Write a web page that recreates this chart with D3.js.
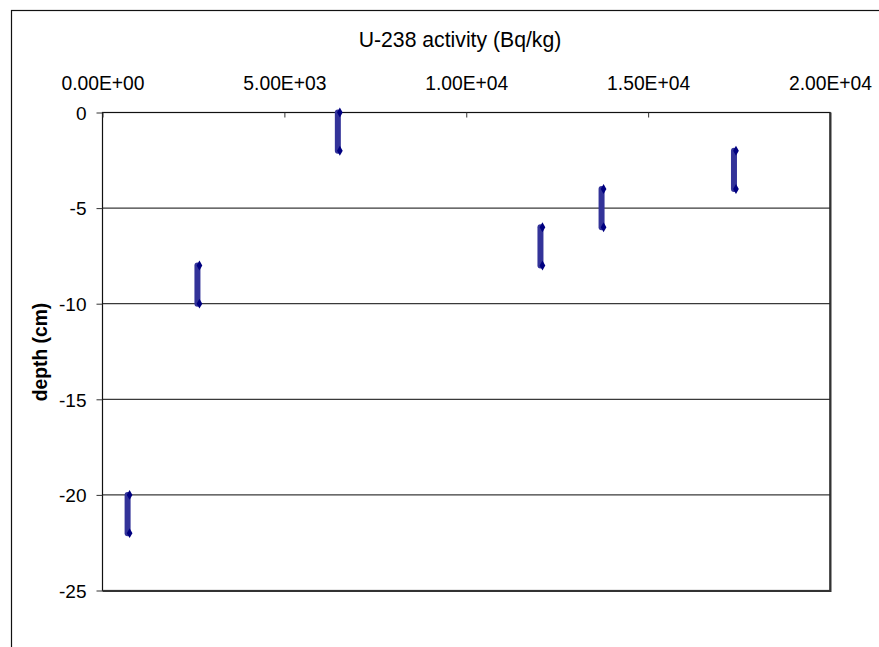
<!DOCTYPE html>
<html>
<head>
<meta charset="utf-8">
<script src="https://cdn.jsdelivr.net/npm/d3@7/dist/d3.min.js"></script>
<style>
  html, body { margin: 0; padding: 0; background: #fff; }
  svg { display: block; font-family: "Liberation Sans", Arial, sans-serif; }
</style>
</head>
<body>
<svg id="chart" width="879" height="647"></svg>
<script>
// U-238 activity per depth interval (each sample spans 2 cm of depth)
const activity    = [690, 2610, 6470, 12040, 13720, 17360];
const depthTop    = [-20, -8, 0, -6, -4, -2];
const depthBottom = [-22, -10, -2, -8, -6, -4];

const xTicks = [0, 5000, 10000, 15000, 20000];
const yTicks = [0, -5, -10, -15, -20, -25];

const titleText = "U-238 activity (Bq/kg)";
const yLabelText = "depth (cm)";

const svg = d3.select("#chart");

// chart frame (extends past the window on right and bottom)
svg.append("rect")
  .attr("x", 11.5).attr("y", 10.5)
  .attr("width", 900).attr("height", 700)
  .attr("fill", "#fff").attr("stroke", "#111").attr("stroke-width", 1.2);

const plot = { left: 102.5, top: 112.5, right: 830, bottom: 590.5 };

const x = d3.scaleLinear().domain([0, 20000]).range([plot.left, plot.right]);
const y = d3.scaleLinear().domain([-25, 0]).range([plot.bottom, plot.top]);

// gridlines
svg.append("g")
  .selectAll("line")
  .data(yTicks.filter(d => d !== 0 && d !== -25))
  .join("line")
  .attr("x1", plot.left).attr("x2", plot.right)
  .attr("y1", d => y(d)).attr("y2", d => y(d))
  .attr("stroke", "#3a3a3a").attr("stroke-width", 1.3);

// plot border
svg.append("rect")
  .attr("x", plot.left).attr("y", plot.top)
  .attr("width", plot.right - plot.left).attr("height", plot.bottom - plot.top)
  .attr("fill", "none").attr("stroke", "#111").attr("stroke-width", 1.2);
svg.append("path")
  .attr("d", `M${plot.left},${plot.bottom + 0.5}H${plot.right + 0.5}V${plot.top}`)
  .attr("fill", "none").attr("stroke", "#333").attr("stroke-width", 2);

const sciFormat = d => {
  const [m, e] = d.toExponential(2).split("e");
  const sign = e[0];
  const digits = e.slice(1).padStart(2, "0");
  return `${m}E${sign}${digits}`;
};

// top x axis, ticks pointing into the plot
const xAxis = svg.append("g")
  .attr("transform", `translate(0,${plot.top})`)
  .call(d3.axisTop(x).tickValues(xTicks).tickFormat(sciFormat).tickSizeInner(-5).tickSizeOuter(0).tickPadding(0));
xAxis.select(".domain").remove();
xAxis.selectAll(".tick line").attr("stroke", "#333");
xAxis.selectAll(".tick text")
  .attr("y", -22.5).attr("dy", 0)
  .attr("font-size", 19.3).attr("fill", "#000")
  .attr("font-family", "'Liberation Sans', Arial, sans-serif");

// left y axis
const yAxis = svg.append("g")
  .attr("transform", `translate(${plot.left},0)`)
  .call(d3.axisLeft(y).tickValues(yTicks).tickFormat(d => String(d)).tickSizeInner(6).tickSizeOuter(0).tickPadding(10));
yAxis.select(".domain").remove();
yAxis.selectAll(".tick line").attr("stroke", "#333");
yAxis.selectAll(".tick text")
  .attr("dy", "0.36em")
  .attr("x", -16)
  .attr("font-size", 19).attr("fill", "#000")
  .attr("font-family", "'Liberation Sans', Arial, sans-serif");

// titles
svg.append("text")
  .attr("x", 460).attr("y", 46.5)
  .attr("text-anchor", "middle")
  .attr("font-size", 21.2).attr("fill", "#000")
  .text(titleText);

svg.append("text")
  .attr("transform", `translate(47,352) rotate(-90)`)
  .attr("text-anchor", "middle")
  .attr("font-size", 19.3).attr("font-weight", "bold").attr("fill", "#000")
  .text(yLabelText);

// depth-interval segments
const samples = activity.map((a, i) => ({ a, top: depthTop[i], bottom: depthBottom[i] }));

const seg = svg.append("g");
seg.selectAll("line")
  .data(samples)
  .join("line")
  .attr("x1", d => x(d.a)).attr("x2", d => x(d.a))
  .attr("y1", d => y(d.top)).attr("y2", d => y(d.bottom))
  .attr("stroke", "#333399").attr("stroke-width", 6)
  .attr("stroke-linecap", "round");

// diamond markers at each interval end
const ends = samples.flatMap(d => [{ a: d.a, v: d.top }, { a: d.a, v: d.bottom }]);
const diamond = d3.symbol().type(d3.symbolDiamond).size(28);
seg.selectAll("path")
  .data(ends)
  .join("path")
  .attr("d", diamond)
  .attr("transform", d => `translate(${x(d.a) + 2},${y(d.v)})`)
  .attr("fill", "#000080");
</script>
</body>
</html>
